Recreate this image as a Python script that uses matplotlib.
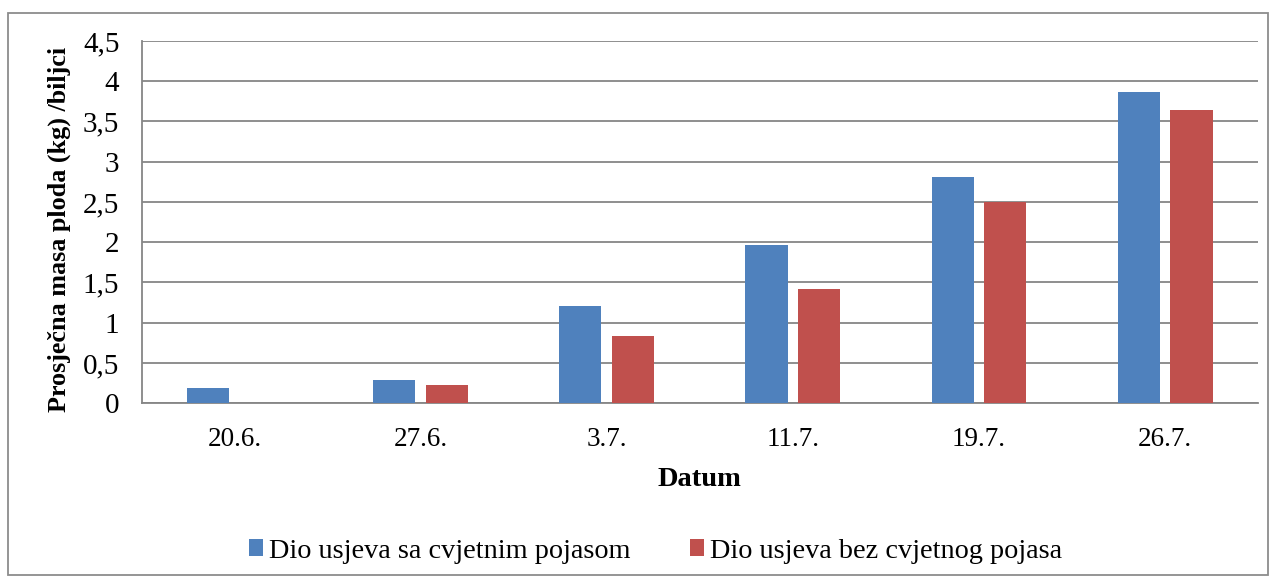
import numpy as np
import matplotlib.pyplot as plt
from matplotlib.patches import Rectangle

plt.rcParams['font.family'] = ['Liberation Serif', 'DejaVu Serif']

dates = ['20.6.', '27.6.', '3.7.', '11.7.', '19.7.', '26.7.']
sa_pojasom = [0.19, 0.29, 1.21, 1.96, 2.81, 3.86]
bez_pojasa = [0.0, 0.23, 0.84, 1.42, 2.50, 3.64]
labels = ['Dio usjeva sa cvjetnim pojasom', 'Dio usjeva bez cvjetnog pojasa']
yticks = [0, 0.5, 1, 1.5, 2, 2.5, 3, 3.5, 4, 4.5]

blue = '#4F81BD'
red = '#C0504D'
grid_col = '#868686'

fig = plt.figure(figsize=(12.76, 5.8), dpi=100)
fig.patches.append(Rectangle((0.006, 0.008), 0.988, 0.97, transform=fig.transFigure,
                             fill=False, edgecolor='#8c8c8c', lw=1.3))
ax = fig.add_axes([0.111, 0.3047, 0.875, 0.6247])

x = np.arange(len(dates))
w = 0.226
off = 0.142
b1 = ax.bar(x - off, sa_pojasom, w, color=blue, label=labels[0], zorder=3)
b2 = ax.bar(x + off, bez_pojasa, w, color=red, label=labels[1], zorder=3)

ax.set_xlim(-0.5, len(dates) - 0.5)
ax.set_ylim(0, 4.5)
ax.set_yticks(yticks)
ax.set_yticklabels([('%g' % t).replace('.', ',') for t in yticks], fontsize=21)
ax.set_xticks(x)
ax.set_xticklabels(dates, fontsize=19.5)
ax.tick_params(axis='both', length=0)
ax.tick_params(axis='y', pad=16)
ax.tick_params(axis='x', pad=17)
ax.yaxis.grid(True, color=grid_col, lw=1.3, zorder=0)
for side in ['top', 'right']:
    ax.spines[side].set_visible(False)
ax.spines['left'].set_color(grid_col)
ax.spines['bottom'].set_color(grid_col)
ax.spines['left'].set_linewidth(1.3)
ax.spines['bottom'].set_linewidth(1.3)

ax.set_xlabel('Datum', fontsize=20.5, fontweight='bold', labelpad=11)
ax.set_ylabel('Prosječna masa ploda (kg) /biljci', fontsize=18.8, fontweight='bold', labelpad=8.5)
ax.yaxis.label.set_y(0.481)

leg = fig.legend(handles=[b1, b2], loc='center', bbox_to_anchor=(0.514, 0.05), ncol=2,
                 frameon=False, fontsize=20.3,
                 handlelength=0.5, handleheight=0.53, handletextpad=0.22, columnspacing=2.1)
for t in leg.get_texts():
    t.set_fontfamily('Liberation Serif')

fig.savefig('out.png', dpi=100)
